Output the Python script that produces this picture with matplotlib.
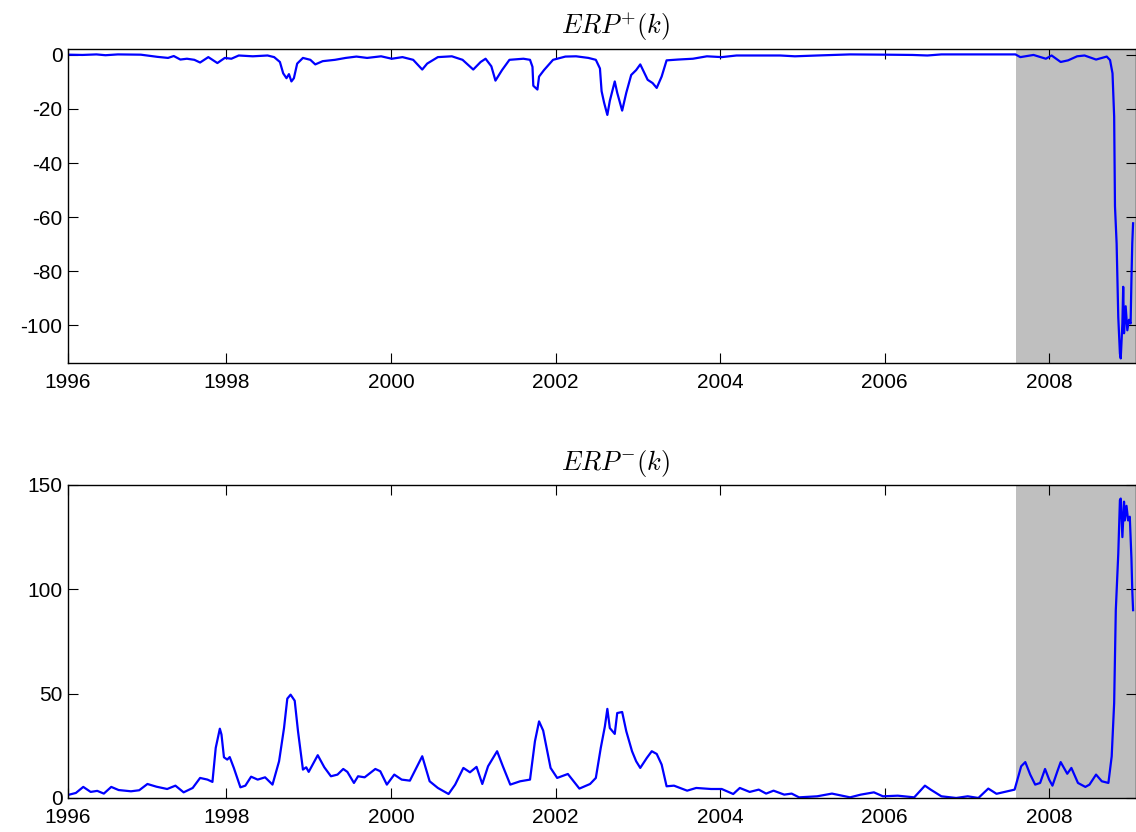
import numpy as np
import matplotlib
matplotlib.use("Agg")
import matplotlib.pyplot as plt

plt.rcParams['font.family'] = ['Liberation Sans', 'DejaVu Sans']
plt.rcParams['mathtext.fontset'] = 'cm'
plt.rcParams['axes.unicode_minus'] = False

# ERP+(k) (year, value)
erp_plus_t = [1996.08, 1996.25, 1996.42, 1996.53, 1996.68, 1996.96, 1997.16, 1997.29, 1997.36,
              1997.44, 1997.52, 1997.61, 1997.68, 1997.78, 1997.89, 1997.98, 1998.06, 1998.15,
              1998.32, 1998.5, 1998.58, 1998.65, 1998.69, 1998.73, 1998.76, 1998.79, 1998.82,
              1998.86, 1998.93, 1999.02, 1999.08, 1999.17, 1999.32, 1999.45, 1999.58, 1999.71,
              1999.88, 2000.01, 2000.14, 2000.27, 2000.38, 2000.44, 2000.57, 2000.74, 2000.87,
              2001.0, 2001.09, 2001.15, 2001.22, 2001.27, 2001.35, 2001.44, 2001.61, 2001.69,
              2001.72, 2001.73, 2001.78, 2001.8, 2001.86, 2001.97, 2002.12, 2002.25, 2002.4,
              2002.49, 2002.54, 2002.56, 2002.59, 2002.63, 2002.66, 2002.72, 2002.75, 2002.81,
              2002.86, 2002.92, 2002.98, 2003.03, 2003.12, 2003.18, 2003.23, 2003.29, 2003.35,
              2003.49, 2003.67, 2003.84, 2004.02, 2004.2, 2004.47, 2004.73, 2004.91, 2005.18,
              2005.58, 2006.02, 2006.34, 2006.52, 2006.69, 2007.59, 2007.65, 2007.81, 2007.96,
              2008.03, 2008.14, 2008.23, 2008.34, 2008.43, 2008.57, 2008.7, 2008.74, 2008.77,
              2008.79, 2008.8, 2008.82, 2008.84, 2008.86, 2008.87, 2008.89, 2008.9, 2008.91,
              2008.93, 2008.95, 2008.97, 2008.99, 2009.0, 2009.01, 2009.02]
erp_plus = [0.1, 0.0, 0.2, -0.1, 0.2, 0.1, -0.7, -1.1, -0.4,
            -1.7, -1.4, -1.8, -2.8, -0.8, -3.0, -1.1, -1.4, -0.2,
            -0.5, -0.2, -0.8, -2.6, -6.8, -8.6, -7.1, -9.8, -8.6,
            -3.2, -1.1, -1.8, -3.5, -2.3, -1.8, -1.1, -0.6, -1.1,
            -0.5, -1.4, -0.8, -1.8, -5.4, -3.2, -0.8, -0.5, -1.8,
            -5.4, -2.6, -1.4, -4.2, -9.5, -5.6, -1.8, -1.4, -1.8,
            -4.4, -11.4, -12.8, -8.0, -5.6, -1.8, -0.6, -0.5, -1.1,
            -1.8, -5.0, -13.4, -17.6, -22.2, -17.0, -9.8, -14.0, -20.6,
            -14.0, -7.4, -5.6, -3.5, -9.2, -10.4, -12.2, -8.0, -2.0,
            -1.7, -1.4, -0.5, -0.8, -0.2, -0.2, -0.2, -0.5, -0.2,
            0.2, 0.1, 0.0, -0.2, 0.2, 0.2, -0.8, 0.0, -1.4,
            -0.2, -2.6, -2.0, -0.5, -0.2, -1.7, -0.6, -1.9, -6.8,
            -22.8, -56.0, -69.8, -97.0, -110.5, -112.3, -99.4, -85.8, -103.0,
            -93.0, -101.9, -98.0, -99.4, -83.3, -69.8, -62.3]

# ERP-(k)
erp_minus_t = [1996.09, 1996.17, 1996.26, 1996.35, 1996.43, 1996.51, 1996.6, 1996.69, 1996.84,
               1996.94, 1997.04, 1997.15, 1997.28, 1997.38, 1997.48, 1997.59, 1997.68, 1997.77,
               1997.83, 1997.87, 1997.92, 1997.94, 1997.97, 1998.01, 1998.04, 1998.09, 1998.17,
               1998.23, 1998.3, 1998.38, 1998.47, 1998.56, 1998.64, 1998.7, 1998.74, 1998.78,
               1998.83, 1998.87, 1998.93, 1998.97, 1999.0, 1999.11, 1999.19, 1999.27, 1999.35,
               1999.42, 1999.47, 1999.55, 1999.6, 1999.68, 1999.81, 1999.87, 1999.95, 2000.04,
               2000.13, 2000.23, 2000.38, 2000.47, 2000.57, 2000.7, 2000.78, 2000.88, 2000.96,
               2001.04, 2001.11, 2001.18, 2001.29, 2001.36, 2001.45, 2001.57, 2001.69, 2001.75,
               2001.8, 2001.85, 2001.94, 2002.02, 2002.15, 2002.29, 2002.42, 2002.49, 2002.55,
               2002.6, 2002.63, 2002.66, 2002.72, 2002.75, 2002.81, 2002.86, 2002.93, 2002.98,
               2003.03, 2003.11, 2003.17, 2003.23, 2003.29, 2003.35, 2003.44, 2003.6, 2003.71,
               2003.89, 2004.02, 2004.16, 2004.24, 2004.36, 2004.47, 2004.56, 2004.65, 2004.78,
               2004.87, 2004.96, 2005.18, 2005.36, 2005.58, 2005.71, 2005.87, 2005.98, 2006.16,
               2006.36, 2006.49, 2006.56, 2006.69, 2006.87, 2007.01, 2007.14, 2007.26, 2007.36,
               2007.58, 2007.66, 2007.71, 2007.77, 2007.83, 2007.89, 2007.95, 2008.0, 2008.04,
               2008.1, 2008.14, 2008.18, 2008.22, 2008.27, 2008.35, 2008.44, 2008.49, 2008.57,
               2008.64, 2008.72, 2008.76, 2008.79, 2008.81, 2008.84, 2008.86, 2008.87, 2008.89,
               2008.91, 2008.92, 2008.94, 2008.96, 2008.98, 2009.0, 2009.01, 2009.02]
erp_minus = [1.6, 2.4, 5.3, 2.9, 3.4, 2.1, 5.3, 3.8, 3.2,
             3.7, 6.7, 5.4, 4.3, 5.9, 2.7, 4.8, 9.6, 8.8,
             7.7, 24.0, 33.2, 30.4, 19.5, 18.4, 19.6, 14.4, 5.1,
             5.9, 10.2, 8.8, 9.9, 6.4, 17.6, 33.5, 47.6, 49.5,
             46.6, 32.0, 13.6, 14.7, 12.5, 20.5, 14.7, 10.4, 11.2,
             13.9, 12.5, 7.2, 10.4, 9.9, 13.9, 12.8, 6.4, 11.2,
             8.8, 8.3, 20.0, 8.0, 4.8, 1.9, 6.4, 14.4, 12.3,
             14.9, 6.7, 15.2, 22.4, 15.2, 6.4, 8.0, 8.8, 27.2,
             36.7, 32.3, 14.4, 9.6, 11.5, 4.5, 6.7, 9.6, 24.0,
             34.3, 42.7, 33.5, 30.7, 40.7, 41.2, 32.0, 22.4, 17.6,
             14.4, 19.2, 22.4, 21.1, 16.0, 5.6, 5.9, 3.5, 4.8,
             4.3, 4.3, 1.9, 4.8, 2.9, 4.0, 2.1, 3.5, 1.6,
             2.1, 0.3, 0.8, 2.1, 0.3, 1.6, 2.7, 0.8, 1.1,
             0.3, 5.9, 4.0, 0.8, 0.0, 0.8, 0.0, 4.5, 2.0,
             4.0, 15.2, 17.2, 11.2, 6.4, 7.2, 13.9, 8.8, 5.9,
             12.8, 17.2, 14.4, 11.6, 14.4, 7.2, 5.3, 6.4, 11.2,
             8.0, 7.2, 19.9, 45.5, 90.0, 117.0, 142.7, 143.5, 125.0,
             142.0, 133.0, 140.0, 133.0, 134.8, 114.8, 99.7, 90.0]

crisis_start = 2007.6
x_min, x_max = 1996.075, 2009.05
year_ticks = [x_min, 1998, 2000, 2002, 2004, 2006, 2008]
year_labels = ['1996', '1998', '2000', '2002', '2004', '2006', '2008']

fig = plt.figure(figsize=(11.36, 8.32), dpi=100)
ax1 = fig.add_axes([0.0599, 0.5637, 0.9397, 0.3774])
ax2 = fig.add_axes([0.0599, 0.0409, 0.9397, 0.3762])

panels = [(ax1, erp_plus_t, erp_plus, (-114, 2.2), [-100, -80, -60, -40, -20, 0], r'$ERP^{+}(k)$'),
          (ax2, erp_minus_t, erp_minus, (0, 150), [0, 50, 100, 150], r'$ERP^{-}(k)$')]

for ax, t, v, ylim, yt, title in panels:
    ax.axvspan(crisis_start, x_max, color='#bfbfbf', lw=0, zorder=0)
    ax.plot(t, v, color='blue', lw=1.6, zorder=2)
    ax.set_xlim(x_min, x_max)
    ax.set_ylim(*ylim)
    ax.set_yticks(yt)
    ax.set_xticks(year_ticks)
    ax.set_xticklabels(year_labels)
    ax.tick_params(direction='in', length=7, width=0.8, labelsize=15, top=True, right=True, colors='black')
    ax.tick_params(axis='x', pad=7)
    ax.tick_params(axis='y', pad=4)
    for s in ax.spines.values():
        s.set_linewidth(1.0)
        s.set_zorder(3)
    ax.set_title(title, fontsize=19, x=0.513, pad=11)

fig.savefig('out.png', dpi=100)
